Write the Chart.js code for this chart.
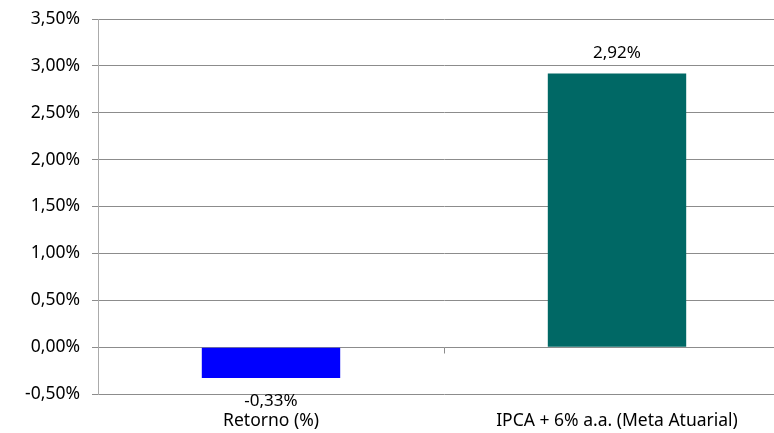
<!DOCTYPE html>
<html>
<head>
<meta charset="utf-8">
<script src="https://cdn.jsdelivr.net/npm/chart.js@4/dist/chart.umd.min.js"></script>
<style>
  html, body { margin: 0; padding: 0; background: #fff; overflow: hidden; }
  #wrap { width: 800px; height: 433px; }
</style>
</head>
<body>
<div id="wrap"><canvas id="retorno-chart"></canvas></div>
<script>
// dados
const categorias = ["Retorno (%)", "IPCA + 6% a.a. (Meta Atuarial)"];
const valores = [-0.33, 2.92];
const cores = ["#0000FF", "#006865"];
const eixoMin = -0.5;
const eixoMax = 3.5;
const eixoPasso = 0.5;

const fmt = (v) => v.toFixed(2).replace(".", ",") + "%";
const FONTE = "'Noto Sans', sans-serif";

// rotulos dos valores acima/abaixo das barras
const rotulos = {
  id: "rotulos",
  afterDatasetsDraw(chart) {
    const c = chart.ctx;
    const meta = chart.getDatasetMeta(0);
    c.save();
    c.font = "17px " + FONTE;
    c.fillStyle = "#000";
    c.textAlign = "center";
    meta.data.forEach((bar, i) => {
      const v = chart.data.datasets[0].data[i];
      if (v >= 0) {
        c.textBaseline = "bottom";
        c.fillText(fmt(v), bar.x, bar.y - 12);
      } else {
        c.textBaseline = "top";
        c.fillText(fmt(v), bar.x, bar.y + 15);
      }
    });
    c.restore();
  }
};

// marca de divisao entre categorias no eixo zero
const marcaCategoria = {
  id: "marcaCategoria",
  afterDatasetsDraw(chart) {
    const x = chart.scales.x, y = chart.scales.y;
    const c = chart.ctx;
    const y0 = Math.round(y.getPixelForValue(0)) + 0.5;
    c.save();
    c.strokeStyle = "#8c8c8c";
    c.lineWidth = 1;
    for (let i = 0; i < categorias.length - 1; i++) {
      const xm = Math.round((x.getPixelForValue(i) + x.getPixelForValue(i + 1)) / 2) + 0.5;
      c.beginPath();
      c.moveTo(xm, y0);
      c.lineTo(xm, y0 + 6);
      c.stroke();
    }
    c.restore();
  }
};

var ctx = document.getElementById("retorno-chart").getContext("2d");
var grafico = new Chart(ctx, {
  type: "bar",
  data: {
    labels: categorias,
    datasets: [{
      data: valores,
      backgroundColor: cores,
      borderWidth: 0,
      categoryPercentage: 0.8,
      barPercentage: 0.5
    }]
  },
  options: {
    responsive: true,
    maintainAspectRatio: false,
    animation: false,
    layout: { padding: { top: 19, left: 0, right: 10, bottom: 0 } },
    plugins: { legend: { display: false }, tooltip: { enabled: false } },
    scales: {
      x: {
        grid: { display: false },
        border: { display: false },
        ticks: { color: "#000", font: { family: FONTE, size: 17.5 }, padding: 9, maxRotation: 0 },
        afterFit: (s) => { s.height = 39; }
      },
      y: {
        min: eixoMin,
        max: eixoMax,
        ticks: {
          stepSize: eixoPasso,
          color: "#000",
          font: { family: FONTE, size: 17.5 },
          padding: 12,
          callback: (v) => fmt(v)
        },
        grid: { color: "#8c8c8c", tickLength: 6 },
        border: { color: "#ababab", width: 1 },
        afterFit: (s) => { s.width = 98; s.paddingTop = 0; s.paddingBottom = 0; }
      }
    }
  },
  plugins: [rotulos, marcaCategoria]
});
</script>
</body>
</html>
